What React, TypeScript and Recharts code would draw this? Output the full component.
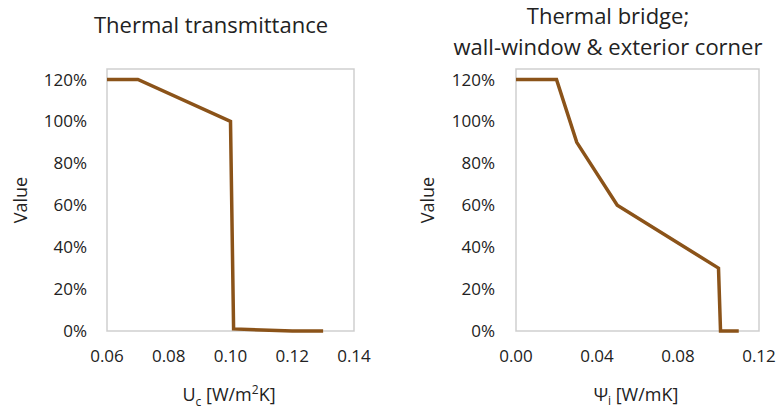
import { LineChart, Line, XAxis, YAxis, ReferenceArea } from "recharts";

const transmittanceX = [0.06, 0.07, 0.1, 0.101, 0.12, 0.13];
const transmittanceY = [1.2, 1.2, 1.0, 0.01, 0, 0];
const transmittanceTicks = [0.06, 0.08, 0.1, 0.12, 0.14];

const bridgeX = [0, 0.02, 0.03, 0.05, 0.1, 0.101, 0.11];
const bridgeY = [1.2, 1.2, 0.9, 0.6, 0.3, 0, 0];
const bridgeTicks = [0, 0.04, 0.08, 0.12];

const valueTicks = [0, 0.2, 0.4, 0.6, 0.8, 1.0, 1.2];

const FONT = "'Open Sans', sans-serif";
const TEXT = "#222";
const LINE = "#8b5319";

const pct = (v: number) => `${Math.round(v * 100)}%`;
const dec = (v: number) => v.toFixed(2);

const tickStyle = { fontSize: 17, fill: TEXT, fontFamily: FONT };

type PanelProps = {
  xs: number[];
  ys: number[];
  domain: [number, number];
  ticks: number[];
  width: number;
  yAxisWidth: number;
  right: number;
  yMargin: number;
};

function Panel({ xs, ys, domain, ticks, width, yAxisWidth, right, yMargin }: PanelProps) {
  const data = xs.map((x, i) => ({ x, y: ys[i] }));
  return (
    <LineChart width={width} height={415} data={data} margin={{ top: 69, right, bottom: 0, left: 0 }}>
      <XAxis
        type="number"
        dataKey="x"
        domain={domain}
        ticks={ticks}
        tickFormatter={dec}
        axisLine={false}
        tickLine={false}
        tickSize={0}
        tickMargin={19}
        height={84}
        tick={tickStyle}
        interval={0}
      />
      <YAxis
        type="number"
        domain={[0, 1.25]}
        ticks={valueTicks}
        tickFormatter={pct}
        axisLine={false}
        tickLine={false}
        tickSize={0}
        tickMargin={yMargin}
        width={yAxisWidth}
        tick={tickStyle}
        interval={0}
      />
      <ReferenceArea x1={domain[0]} x2={domain[1]} y1={0} y2={1.25} fill="none" stroke="#cfcfcf" strokeWidth={1.5} />
      <Line type="linear" dataKey="y" stroke={LINE} strokeWidth={3.5} dot={false} isAnimationActive={false} />
    </LineChart>
  );
}

const centered = (cx: number, cy: number, size: number, rotate = false): React.CSSProperties => ({
  position: "absolute",
  left: cx,
  top: cy,
  transform: `translate(-50%, -50%)${rotate ? " rotate(-90deg)" : ""}`,
  fontSize: size,
  lineHeight: 1,
  whiteSpace: "nowrap",
  color: TEXT,
  fontFamily: FONT,
});

export default function App() {
  return (
    <div style={{ position: "absolute", left: 0, top: 0, width: 779, height: 415, background: "#fff", fontFamily: FONT }}>
      <div style={{ position: "absolute", left: 0, top: 0 }}>
        <Panel
          xs={transmittanceX}
          ys={transmittanceY}
          domain={[0.06, 0.14]}
          ticks={transmittanceTicks}
          width={390}
          yAxisWidth={107}
          right={36}
          yMargin={20}
        />
      </div>
      <div style={{ position: "absolute", left: 390, top: 0 }}>
        <Panel
          xs={bridgeX}
          ys={bridgeY}
          domain={[0, 0.12]}
          ticks={bridgeTicks}
          width={389}
          yAxisWidth={126}
          right={20}
          yMargin={21}
        />
      </div>

      <div style={{ position: "absolute", left: 61, width: 300, top: 9, textAlign: "center", fontSize: 22, lineHeight: "31px", color: TEXT }}>
        Thermal transmittance
      </div>
      <div style={{ position: "absolute", left: 428, width: 360, top: 0, textAlign: "center", fontSize: 22, lineHeight: "31px", color: TEXT }}>
        Thermal bridge;
        <br />
        wall-window &amp; exterior corner
      </div>

      <div style={centered(20, 200, 18, true)}>Value</div>
      <div style={centered(427, 200, 18, true)}>Value</div>

      <div style={centered(229, 396, 18)}>
        U<sub style={{ fontSize: 12 }}>c</sub> [W/m<sup style={{ fontSize: 12 }}>2</sup>K]
      </div>
      <div style={centered(636, 396, 18)}>
        Ψ<sub style={{ fontSize: 12 }}>i</sub> [W/mK]
      </div>
    </div>
  );
}
